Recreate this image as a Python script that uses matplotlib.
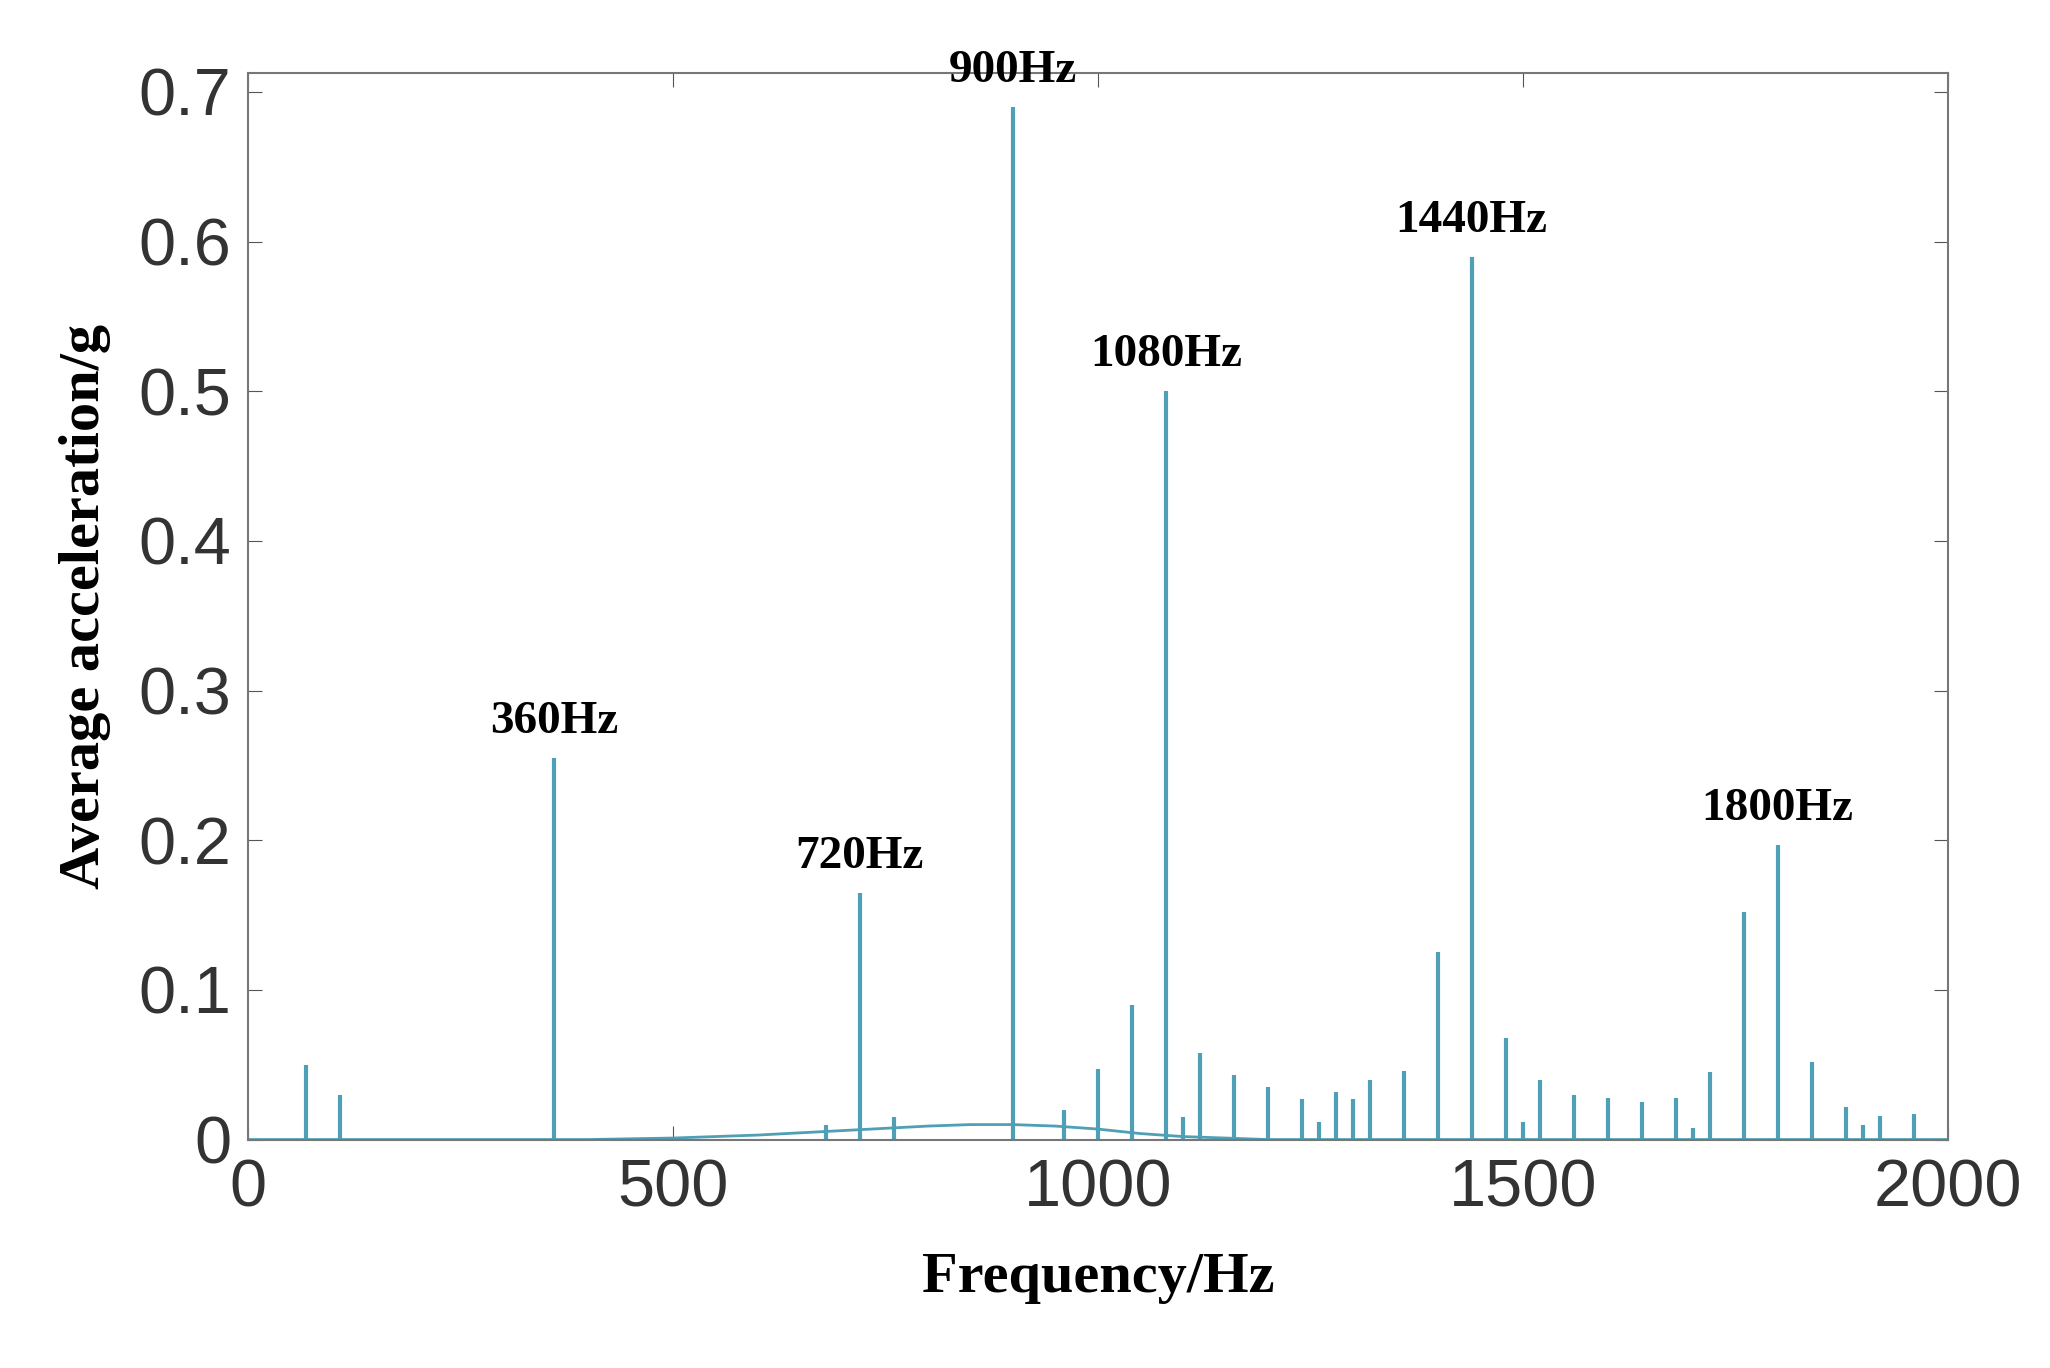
import matplotlib
matplotlib.use("Agg")
import matplotlib.pyplot as plt
import numpy as np

peak_freq = [68, 108, 360, 680, 720, 760, 900, 960, 1000, 1040, 1080, 1100, 1120, 1160, 1200,
             1240, 1260, 1280, 1300, 1320, 1360, 1400, 1440, 1480, 1500, 1520, 1560, 1600,
             1640, 1680, 1700, 1720, 1760, 1800, 1840, 1880, 1900, 1920, 1960]
peak_amp = [0.050, 0.030, 0.255, 0.010, 0.165, 0.015, 0.690, 0.020, 0.047, 0.090, 0.500, 0.015,
            0.058, 0.043, 0.035, 0.027, 0.012, 0.032, 0.027, 0.040, 0.046, 0.125, 0.590, 0.068,
            0.012, 0.040, 0.030, 0.028, 0.025, 0.028, 0.008, 0.045, 0.152, 0.197, 0.052,
            0.022, 0.010, 0.016, 0.017]
bg_freq = [0, 400, 500, 600, 700, 800, 850, 900, 950, 1000, 1050, 1100, 1200, 2000]
bg_amp = [0.0, 0.0, 0.001, 0.003, 0.006, 0.009, 0.010, 0.010, 0.009, 0.007, 0.004, 0.002, 0.0, 0.0]
labels = ["360Hz", "720Hz", "900Hz", "1080Hz", "1440Hz", "1800Hz"]
label_freq = [360, 720, 900, 1080, 1440, 1800]
label_amp = [0.255, 0.165, 0.690, 0.500, 0.590, 0.197]

color = "#4f9fb6"
fig = plt.figure(figsize=(20.5, 13.68), dpi=100)
ax = fig.add_axes([0.121, 0.167, 0.829, 0.78])
ax.plot(bg_freq, bg_amp, color=color, lw=2)
ax.vlines(peak_freq, 0, peak_amp, color=color, lw=3)
for t, f, a in zip(labels, label_freq, label_amp):
    ax.text(f, a + 0.01, t, ha="center", va="bottom", fontsize=34, fontweight="bold",
            family="Liberation Serif")
ax.set_xlim(0, 2000)
ax.set_ylim(0, 0.713)
ax.set_xticks([0, 500, 1000, 1500, 2000])
ax.set_yticks([0, 0.1, 0.2, 0.3, 0.4, 0.5, 0.6, 0.7])
ax.set_yticklabels(["0", "0.1", "0.2", "0.3", "0.4", "0.5", "0.6", "0.7"])
ax.tick_params(direction="in", top=True, right=True, length=10, color="#555555")
ax.tick_params(axis="x", pad=14)
ax.tick_params(axis="y", pad=12)
for lab in ax.get_xticklabels() + ax.get_yticklabels():
    lab.set_fontsize(48)
    lab.set_family("Liberation Sans")
    lab.set_color("#333333")
for s in ax.spines.values():
    s.set_color("#777777")
    s.set_linewidth(1.5)
ax.set_xlabel("Frequency/Hz", fontsize=42, fontweight="bold", family="Liberation Serif", labelpad=22)
ax.set_ylabel("Average acceleration/g", fontsize=42, fontweight="bold", family="Liberation Serif", labelpad=20)
fig.savefig("out.png", dpi=100)
